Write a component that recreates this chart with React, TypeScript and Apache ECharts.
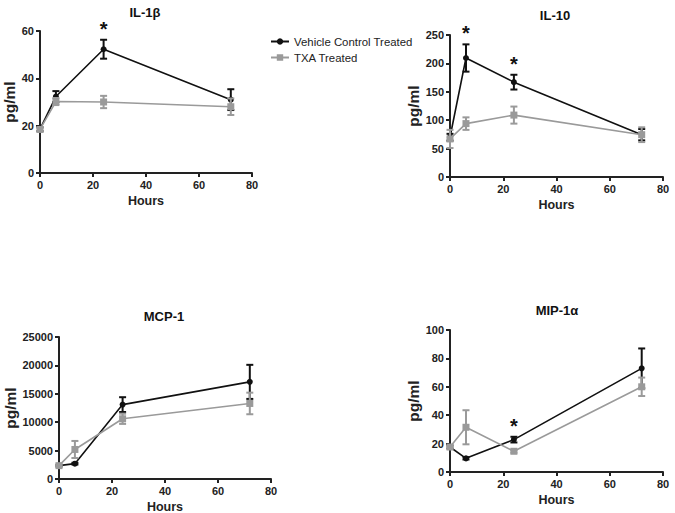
import React, { useEffect, useRef } from "react";
import * as echarts from "echarts";

const hours = [0, 6, 24, 72];

const il1bVehicle = [18.5, 32.3, 52.3, 31];
const il1bVehicleErr = [0.8, 2.3, 4, 4.4];
const il1bTxa = [18.4, 30.2, 30, 28];
const il1bTxaErr = [0.8, 1.5, 2.6, 3.5];

const il10Vehicle = [70, 209.5, 167, 74.5];
const il10VehicleErr = [6, 24, 13, 10];
const il10Txa = [67, 94, 109, 74.5];
const il10TxaErr = [16, 11, 15, 13];

const mcp1Vehicle = [2350, 2700, 13100, 17100];
const mcp1VehicleErr = [150, 150, 1300, 3000];
const mcp1Txa = [2350, 5200, 10600, 13300];
const mcp1TxaErr = [150, 1500, 900, 1900];

const mip1aVehicle = [17.6, 9.6, 22.8, 73];
const mip1aVehicleErr = [1, 0.8, 2, 14];
const mip1aTxa = [17.6, 31.5, 14.6, 60];
const mip1aTxaErr = [1, 12, 1, 6.5];

const il1bStars = [24];
const il10Stars = [6, 24];
const mcp1Stars: number[] = [];
const mip1aStars = [24];

const panelTitles = ["IL-1β", "IL-10", "MCP-1", "MIP-1α"];
const yMax = [60, 250, 25000, 100];
const yInterval = [20, 50, 5000, 20];
const xTicks = { min: 0, max: 80, interval: 20 };

const BLACK = "#111111";
const GRAY = "#9a9a9a";
const FONT = "Liberation Sans";

const panels = [
  { v: il1bVehicle, ve: il1bVehicleErr, t: il1bTxa, te: il1bTxaErr, stars: il1bStars },
  { v: il10Vehicle, ve: il10VehicleErr, t: il10Txa, te: il10TxaErr, stars: il10Stars },
  { v: mcp1Vehicle, ve: mcp1VehicleErr, t: mcp1Txa, te: mcp1TxaErr, stars: mcp1Stars },
  { v: mip1aVehicle, ve: mip1aVehicleErr, t: mip1aTxa, te: mip1aTxaErr, stars: mip1aStars },
];

const grids = [
  { left: 40, right: 423, top: 31, height: 142, outerBoundsMode: "none" },
  { left: 450, right: 12, top: 35, height: 142, outerBoundsMode: "none" },
  { left: 59, right: 404, top: 337, height: 142, outerBoundsMode: "none" },
  { left: 450, right: 12, top: 330, height: 142, outerBoundsMode: "none" },
];
const yNameGaps = [21, 26, 35, 26];
const titlePos = [
  [145, 12],
  [555, 15],
  [164, 316],
  [557, 310],
];

function errRender(color: string) {
  return (params: any, api: any) => {
    const x = api.value(0);
    const lo = api.coord([x, api.value(1)]);
    const hi = api.coord([x, api.value(2)]);
    const w = 3.5;
    const style = { stroke: color, lineWidth: 2 };
    return {
      type: "group",
      children: [
        { type: "line", shape: { x1: lo[0], y1: lo[1], x2: hi[0], y2: hi[1] }, style },
        { type: "line", shape: { x1: lo[0] - w, y1: lo[1], x2: lo[0] + w, y2: lo[1] }, style },
        { type: "line", shape: { x1: hi[0] - w, y1: hi[1], x2: hi[0] + w, y2: hi[1] }, style },
      ],
    };
  };
}

function starRender(params: any, api: any) {
  const p = api.coord([api.value(0), api.value(1)]);
  return {
    type: "text",
    x: p[0],
    y: p[1] - 1,
    style: {
      text: "*",
      textAlign: "center",
      textVerticalAlign: "bottom",
      font: `bold 20px ${FONT}`,
      fill: BLACK,
    },
  };
}

export default function App() {
  const ref = useRef<HTMLDivElement>(null);
  useEffect(() => {
    if (!ref.current) return;
    const chart = echarts.init(ref.current, undefined, { renderer: "svg" });
    const xAxis: any[] = [];
    const yAxis: any[] = [];
    const series: any[] = [];
    panels.forEach((p, i) => {
      xAxis.push({
        gridIndex: i,
        type: "value",
        min: xTicks.min,
        max: xTicks.max,
        interval: xTicks.interval,
        name: "Hours",
        nameLocation: "middle",
        nameGap: 21,
        nameTextStyle: { fontFamily: FONT, fontWeight: "bold", fontSize: 12.5, color: "#222" },
        axisLine: { lineStyle: { color: "#222", width: 2 } },
        axisTick: { lineStyle: { color: "#222", width: 2 }, length: 4 },
        axisLabel: { fontFamily: FONT, fontWeight: "bold", fontSize: 11, color: "#222", margin: 6 },
        splitLine: { show: false },
      });
      yAxis.push({
        gridIndex: i,
        type: "value",
        min: 0,
        max: yMax[i],
        interval: yInterval[i],
        name: "pg/ml",
        nameLocation: "middle",
        nameGap: yNameGaps[i],
        nameTextStyle: { fontFamily: FONT, fontWeight: "bold", fontSize: 15.5, color: "#222" },
        axisLine: { lineStyle: { color: "#222", width: 2 } },
        axisTick: { lineStyle: { color: "#222", width: 2 }, length: 4 },
        axisLabel: {
          fontFamily: FONT,
          fontWeight: "bold",
          fontSize: 11,
          color: "#222",
          margin: 6,
          formatter: (v: number) => String(v),
        },
        splitLine: { show: false },
      });
      const vErr = hours.map((h, k) => [h, p.v[k] - p.ve[k], p.v[k] + p.ve[k]]);
      const tErr = hours.map((h, k) => [h, p.t[k] - p.te[k], p.t[k] + p.te[k]]);
      series.push({
        type: "custom",
        xAxisIndex: i,
        yAxisIndex: i,
        renderItem: errRender(BLACK),
        data: vErr,
        encode: { x: 0, y: [1, 2] },
        z: 2,
      });
      series.push({
        type: "line",
        name: "Vehicle Control Treated",
        xAxisIndex: i,
        yAxisIndex: i,
        data: hours.map((h, k) => [h, p.v[k]]),
        symbol: "circle",
        symbolSize: 6,
        itemStyle: { color: BLACK },
        lineStyle: { color: BLACK, width: 1.6 },
        z: 3,
      });
      series.push({
        type: "custom",
        xAxisIndex: i,
        yAxisIndex: i,
        renderItem: errRender(GRAY),
        data: tErr,
        encode: { x: 0, y: [1, 2] },
        z: 4,
      });
      series.push({
        type: "line",
        name: "TXA Treated",
        xAxisIndex: i,
        yAxisIndex: i,
        data: hours.map((h, k) => [h, p.t[k]]),
        symbol: "rect",
        symbolSize: 7,
        itemStyle: { color: GRAY },
        lineStyle: { color: GRAY, width: 1.6 },
        z: 5,
      });
      series.push({
        type: "custom",
        xAxisIndex: i,
        yAxisIndex: i,
        renderItem: starRender,
        data: p.stars.map((h) => {
          const k = hours.indexOf(h);
          return [h, p.v[k] + p.ve[k]];
        }),
        z: 6,
      });
    });

    chart.setOption({
      animation: false,
      backgroundColor: "#ffffff",
      grid: grids,
      xAxis,
      yAxis,
      series,
      legend: {
        data: ["Vehicle Control Treated", "TXA Treated"],
        orient: "vertical",
        left: 265,
        top: 31,
        itemWidth: 18,
        itemHeight: 8,
        itemGap: 5,
        textStyle: { fontFamily: FONT, fontSize: 11.4, color: "#222" },
      },
      graphic: panelTitles.map((t, i) => ({
        type: "text",
        x: titlePos[i][0],
        y: titlePos[i][1],
        style: {
          text: t,
          textAlign: "center",
          textVerticalAlign: "middle",
          font: `bold 13px ${FONT}`,
          fill: "#111",
        },
      })),
    });
    return () => chart.dispose();
  }, []);
  return (
    <div
      ref={ref}
      style={{ position: "fixed", left: 0, top: 0, width: 675, height: 513 }}
    />
  );
}
